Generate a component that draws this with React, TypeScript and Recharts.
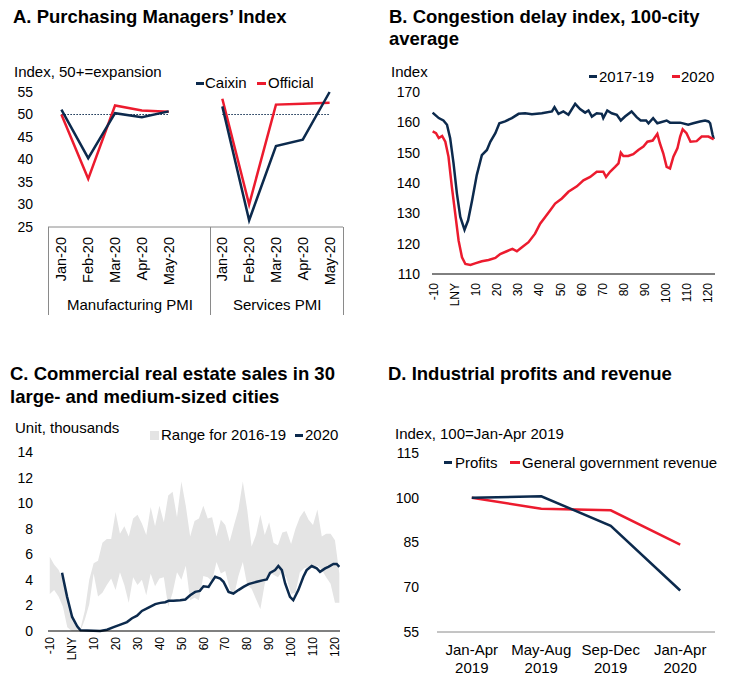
import React from 'react'
import { LineChart, ComposedChart, Line, Area, XAxis, YAxis } from 'recharts'

const NAVY = '#0c2a4d'
const RED = '#ec1b2e'
const BAND = '#e4e4e4'
const FRAME = '#8a8a8a'
const FONT = '"Liberation Sans", Arial, Helvetica, sans-serif'

// A. PMI
const pmiMonths = ['Jan-20', 'Feb-20', 'Mar-20', 'Apr-20', 'May-20']
const mfgCaixin = [51.1, 40.3, 50.3, 49.4, 50.7]
const mfgOfficial = [50.0, 35.7, 52.0, 50.9, 50.6]
const svcCaixin = [51.8, 26.5, 43.0, 44.4, 55.0]
const svcOfficial = [53.5, 30.0, 52.2, 52.4, 52.6]
const EXPANSION = 50
const pmiTicks = [25, 30, 35, 40, 45, 50, 55]

// B. congestion delay index (days relative to LNY)
const dayTicks = [-10, 0, 10, 20, 30, 40, 50, 60, 70, 80, 90, 100, 110, 120]
const cong1719Days = [-10.5, -7.6, -5.4, -3.7, -2.2, -0.6, 1.0, 2.6, 4.6, 6.3, 8.2, 10.4, 12.8, 15.2, 16.8, 19.2, 21.1, 23.8, 27.0, 30.2, 33.3, 36.5, 41.2, 46.0, 47.2, 49.1, 51.4, 53.8, 57.0, 59.3, 61.7, 63.3, 64.9, 67.2, 69.6, 70.3, 72.2, 74.3, 76.7, 78.6, 80.6, 83.7, 86.1, 88.0, 90.6, 91.7, 93.9, 95.9, 100.3, 101.9, 106.7, 110.5, 112.9, 116.1, 118.5, 120.1, 120.9, 122.1, 122.6]
const cong1719 = [163.2, 161.4, 160.6, 159.2, 154.8, 146.5, 136.5, 128.8, 124.6, 127.7, 134.3, 142.6, 149.2, 150.9, 153.6, 156.4, 159.7, 160.3, 161.4, 162.8, 163, 162.7, 163, 163.6, 165, 162.8, 163.6, 162.5, 166.1, 164.4, 163.2, 163.9, 161.9, 163, 162.8, 161.4, 163.9, 163, 162.5, 160.6, 161.9, 163.6, 161.7, 160.6, 160.6, 159.7, 161.4, 159.7, 160.6, 159.9, 159.9, 159.2, 159.7, 160.3, 160.6, 160.3, 159.7, 155.8, 154.5]
const cong2020Days = [-10.5, -8.9, -7.6, -6.0, -4.5, -3.0, -1.4, 0.2, 1.8, 3.4, 5.0, 7.4, 9.6, 12.8, 16.0, 19.2, 21.5, 24.6, 27.3, 29.4, 31.8, 34.9, 38.0, 40.4, 42.8, 45.2, 47.5, 50.7, 53.8, 57.8, 60.9, 64.1, 67.2, 70.3, 71.6, 73.5, 75.9, 77.5, 78.6, 79.8, 82.1, 84.5, 86.9, 89.3, 91.2, 93.7, 95.9, 97.1, 98.7, 100.3, 101.9, 103.5, 105.4, 106.7, 107.9, 109.7, 111.6, 114.5, 116.9, 120.1, 122.6]
const cong2020 = [157, 156.4, 154.8, 155.5, 153.6, 148.7, 138.7, 129.9, 121, 115.5, 113.3, 113, 113.5, 114.2, 114.6, 115.3, 116.6, 117.5, 118.3, 117.5, 118.8, 120.5, 123.3, 126.6, 128.8, 131, 133.2, 134.9, 137.1, 138.9, 140.9, 142, 143.7, 143.7, 142, 143.7, 145.3, 146.5, 150, 148.9, 148.9, 149.5, 150.9, 152, 153.6, 154, 156.2, 153.1, 149.8, 145.3, 144.8, 148.7, 151.4, 155.3, 157.7, 156.4, 153.6, 153.8, 155.3, 155.3, 154.4]
const congTicks = [110, 120, 130, 140, 150, 160, 170]

// C. commercial real estate sales, thousand units
const bandDays = [-10, -8, -6, -4, -2, 0, 2, 4, 6, 8, 10, 12, 14, 16, 18, 20, 22, 24, 26, 28, 30, 32, 34, 36, 38, 40, 42, 44, 46, 48, 50, 52, 54, 56, 58, 60, 62, 64, 66, 68, 70, 72, 74, 76, 78, 80, 82, 84, 86, 88, 90, 92, 94, 96, 98, 100, 102, 104, 106, 108, 110, 112, 114, 116, 118, 120, 122]
const bandHigh = [5.8, 5.2, 4.8, 4.0, 2.1, 0.9, 0.3, 0.2, 1.6, 4.0, 5.3, 5.5, 6.9, 7.2, 7.2, 9.3, 7.6, 8.2, 7.4, 8.8, 9.1, 8.4, 7.5, 9.7, 8.2, 9.8, 8.5, 10.6, 10.9, 8.9, 11.7, 9.8, 7.4, 8.6, 8.8, 9.8, 8.8, 8.9, 7.4, 8.7, 8.3, 7.0, 8.3, 9.5, 11.7, 9.5, 6.6, 7.5, 9.1, 7.5, 8.5, 6.9, 6.7, 7.7, 7.8, 6.8, 8.0, 8.9, 9.4, 8.7, 8.3, 9.5, 7.4, 7.6, 7.6, 7.1, 4.5]
const bandLow = [2.9, 3.2, 2.7, 1.9, 0.3, 0, 0, 0, 0.9, 2.1, 4.5, 2.7, 3.0, 3.6, 4.1, 3.2, 4.6, 3.6, 2.2, 4.2, 3.6, 4.0, 2.8, 4.5, 3.5, 4.1, 4.2, 1.9, 3.0, 4.6, 4.0, 5.1, 2.4, 2.6, 2.4, 4.3, 4.2, 3.9, 5.4, 4.5, 4.7, 3.3, 2.8, 4.3, 5.4, 3.6, 3.3, 2.5, 1.7, 3.7, 4.6, 4.4, 4.2, 4.7, 4.1, 2.9, 3.0, 4.6, 4.9, 5.0, 4.9, 5.1, 4.8, 4.2, 3.7, 2.2, 2.2]
const salesDays = [-4.4, -2.1, 0.2, 2.5, 4, 13, 16.1, 19.1, 22.2, 25.2, 27.5, 29.8, 32, 35, 38.1, 40.4, 42.6, 44.2, 46.4, 49.5, 51.8, 54, 56.3, 58.4, 60.1, 62.4, 63.4, 65.4, 67.7, 69.2, 71.5, 73.7, 76, 78.3, 80.6, 84.4, 87.4, 88.9, 90.4, 92.7, 94.2, 95.8, 97.3, 99.5, 101, 103.3, 105.6, 107.1, 109.4, 111.7, 113.2, 115.5, 117, 119.3, 120.8, 122]
const sales2020 = [4.55, 2.67, 1.1, 0.37, 0.05, 0, 0.1, 0.3, 0.5, 0.7, 1.0, 1.2, 1.57, 1.83, 2.1, 2.2, 2.25, 2.36, 2.36, 2.4, 2.46, 2.8, 3.06, 3.14, 3.5, 3.45, 3.72, 4.24, 4.1, 3.85, 3.06, 2.93, 3.2, 3.45, 3.67, 3.85, 3.98, 4.03, 4.55, 4.76, 5.08, 4.76, 3.72, 2.67, 2.41, 3.2, 4.24, 4.76, 5.08, 4.9, 4.63, 4.9, 5.02, 5.24, 5.24, 5.02]
const salesTicks = [0, 2, 4, 6, 8, 10, 12, 14]

// D. industrial profits and revenue
const periods = ['Jan-Apr 2019', 'May-Aug 2019', 'Sep-Dec 2019', 'Jan-Apr 2020']
const profits = [100, 100.5, 90.6, 68.9]
const govRevenue = [100, 96.3, 95.8, 84.3]
const indexTicks = [55, 70, 85, 100, 115]

const pmiRows = [
  ...pmiMonths.map((m, i) => ({ month: m, caixin: mfgCaixin[i], official: mfgOfficial[i], ref: EXPANSION })),
  { month: '', caixin: null, official: null, ref: null },
  ...pmiMonths.map((m, i) => ({ month: m, caixin: svcCaixin[i], official: svcOfficial[i], ref: EXPANSION })),
]
const cong1719Rows = cong1719Days.map((d, i) => ({ day: d, value: cong1719[i] }))
const cong2020Rows = cong2020Days.map((d, i) => ({ day: d, value: cong2020[i] }))
const bandRows = bandDays.map((d, i) => ({ day: d, range: [bandLow[i], bandHigh[i]] }))
const salesRows = salesDays.map((d, i) => ({ day: d, value: sales2020[i] }))
const profitRows = periods.map((p, i) => ({ period: p, profits: profits[i], revenue: govRevenue[i] }))

const lny = (v: number) => (v === 0 ? 'LNY' : String(v))

function UpTick(props: any) {
  const { x, y, payload, size = 14, fmt } = props
  const label = fmt ? fmt(payload.value) : payload.value
  if (label === '') return null
  return (
    <g transform={`translate(${x},${y})`}>
      <text transform="rotate(-90)" textAnchor="end" dy="0.35em" fontSize={size} fill="#000">
        {label}
      </text>
    </g>
  )
}

function PeriodTick({ x, y, payload }: any) {
  const [a, b] = String(payload.value).split(' ')
  return (
    <text x={x} y={y} textAnchor="middle" fontSize={15} fill="#000">
      <tspan x={x} dy={17}>{a}</tspan>
      <tspan x={x} dy={18}>{b}</tspan>
    </text>
  )
}

function Txt({ x, cy, size = 15, bold = false, children }: any) {
  return (
    <div
      style={{
        position: 'absolute',
        left: x,
        top: cy - size * 0.59,
        fontSize: size,
        lineHeight: `${size * 1.2}px`,
        fontWeight: bold ? 'bold' : 'normal',
        whiteSpace: 'nowrap',
        color: '#000',
      }}
    >
      {children}
    </div>
  )
}

function Dash({ x, cy, w = 8, color }: any) {
  return <div style={{ position: 'absolute', left: x, top: cy - 1.5, width: w, height: 3, background: color }} />
}

function VLine({ x, top, h }: any) {
  return <div style={{ position: 'absolute', left: x, top, width: 1, height: h, background: FRAME }} />
}

const yTick = { fontSize: 14, fill: '#000' }

export default function App() {
  return (
    <div style={{ position: 'absolute', left: 0, top: 0, width: 734, height: 675, background: '#fff', fontFamily: FONT, overflow: 'hidden' }}>
      {/* A */}
      <div style={{ position: 'absolute', left: 0, top: 0 }}>
        <LineChart width={367} height={330} data={pmiRows} margin={{ top: 92, right: 24, left: 8, bottom: 13 }}>
          <XAxis dataKey="month" interval={0} height={90} padding={{ left: 13.4, right: 13.4 }} axisLine={{ stroke: FRAME }} tickLine={false} tickSize={0} tickMargin={10} tick={<UpTick size={14.5} />} />
          <YAxis domain={[25, 55]} ticks={pmiTicks} width={40} axisLine={false} tickLine={false} tickSize={0} tickMargin={15} tick={yTick} />
          <Line dataKey="ref" stroke={NAVY} strokeWidth={1} strokeDasharray="1.5 1.5" dot={false} isAnimationActive={false} />
          <Line dataKey="official" stroke={RED} strokeWidth={2.5} dot={false} isAnimationActive={false} />
          <Line dataKey="caixin" stroke={NAVY} strokeWidth={2.5} dot={false} isAnimationActive={false} />
        </LineChart>
      </div>
      <VLine x={48} top={227} h={88} />
      <VLine x={210} top={227} h={88} />
      <VLine x={343} top={227} h={88} />
      <Txt x={67} cy={305}>Manufacturing PMI</Txt>
      <Txt x={233} cy={305}>Services PMI</Txt>
      <Txt x={13} cy={16.7} size={18.5} bold>A. Purchasing Managers’ Index</Txt>
      <Txt x={14} cy={71.7}>Index, 50+=expansion</Txt>
      <Dash x={196} cy={83.3} color={NAVY} />
      <Txt x={205} cy={83.3}>Caixin</Txt>
      <Dash x={257} cy={83.3} w={9} color={RED} />
      <Txt x={268} cy={83.3}>Official</Txt>

      {/* B */}
      <div style={{ position: 'absolute', left: 367, top: 0 }}>
        <LineChart width={367} height={330} margin={{ top: 92, right: 19, left: 15, bottom: 6 }}>
          <XAxis type="number" dataKey="day" domain={[-10.8, 123.2]} ticks={dayTicks} interval={0} allowDataOverflow height={50} axisLine={{ stroke: '#000' }} tickLine={false} tickSize={0} tickMargin={9} tick={<UpTick size={12} fmt={lny} />} />
          <YAxis domain={[110, 170]} ticks={congTicks} width={50} axisLine={false} tickLine={false} tickSize={0} tickMargin={12} tick={yTick} />
          <Line data={cong1719Rows} dataKey="value" stroke={NAVY} strokeWidth={2.5} dot={false} isAnimationActive={false} />
          <Line data={cong2020Rows} dataKey="value" stroke={RED} strokeWidth={2.5} dot={false} isAnimationActive={false} />
        </LineChart>
      </div>
      <Txt x={389} cy={16.5} size={18.5} bold>B. Congestion delay index, 100-city</Txt>
      <Txt x={389} cy={39} size={18.5} bold>average</Txt>
      <Txt x={391} cy={71.7}>Index</Txt>
      <Dash x={589} cy={76.7} color={NAVY} />
      <Txt x={599} cy={76.7}>2017-19</Txt>
      <Dash x={672} cy={76.7} color={RED} />
      <Txt x={681} cy={76.7}>2020</Txt>

      {/* C */}
      <div style={{ position: 'absolute', left: 0, top: 330 }}>
        <ComposedChart width={367} height={345} data={bandRows} margin={{ top: 122, right: 27, left: 8, bottom: 4 }}>
          <XAxis type="number" dataKey="day" domain={[-10.8, 122.3]} ticks={dayTicks} interval={0} allowDataOverflow height={40} axisLine={{ stroke: '#000' }} tickLine={false} tickSize={0} tickMargin={6} tick={<UpTick size={12} fmt={lny} />} />
          <YAxis domain={[0, 14]} ticks={salesTicks} width={40} axisLine={false} tickLine={false} tickSize={0} tickMargin={15} tick={yTick} />
          <Area dataKey="range" type="linear" stroke="none" fill={BAND} fillOpacity={1} isAnimationActive={false} />
          <Line data={salesRows} dataKey="value" stroke={NAVY} strokeWidth={2.5} dot={false} isAnimationActive={false} />
        </ComposedChart>
      </div>
      <Txt x={10} cy={374} size={18.5} bold>C. Commercial real estate sales in 30</Txt>
      <Txt x={10} cy={397} size={18.5} bold>large- and medium-sized cities</Txt>
      <Txt x={15} cy={428.3}>Unit, thousands</Txt>
      <div style={{ position: 'absolute', left: 150, top: 431, width: 9, height: 9, background: BAND }} />
      <Txt x={161} cy={435}>Range for 2016-19</Txt>
      <Dash x={295} cy={435} color={NAVY} />
      <Txt x={305} cy={435}>2020</Txt>

      {/* D */}
      <div style={{ position: 'absolute', left: 367, top: 330 }}>
        <LineChart width={367} height={345} data={profitRows} margin={{ top: 123, right: 19, left: 20, bottom: 3 }}>
          <XAxis dataKey="period" interval={0} height={40} padding={{ left: 34.8, right: 34.8 }} axisLine={{ stroke: FRAME }} tickLine={false} tickSize={0} tickMargin={6} tick={<PeriodTick />} />
          <YAxis domain={[55, 115]} ticks={indexTicks} width={50} axisLine={false} tickLine={false} tickSize={0} tickMargin={18} tick={yTick} />
          <Line dataKey="revenue" stroke={RED} strokeWidth={2.5} dot={false} isAnimationActive={false} />
          <Line dataKey="profits" stroke={NAVY} strokeWidth={2.5} dot={false} isAnimationActive={false} />
        </LineChart>
      </div>
      <Txt x={388} cy={374} size={18.5} bold>D. Industrial profits and revenue</Txt>
      <Txt x={395} cy={434}>Index, 100=Jan-Apr 2019</Txt>
      <Dash x={444} cy={462.7} color={NAVY} />
      <Txt x={455} cy={462.7}>Profits</Txt>
      <Dash x={510} cy={462.7} w={10} color={RED} />
      <Txt x={522} cy={462.7}>General government revenue</Txt>
    </div>
  )
}
